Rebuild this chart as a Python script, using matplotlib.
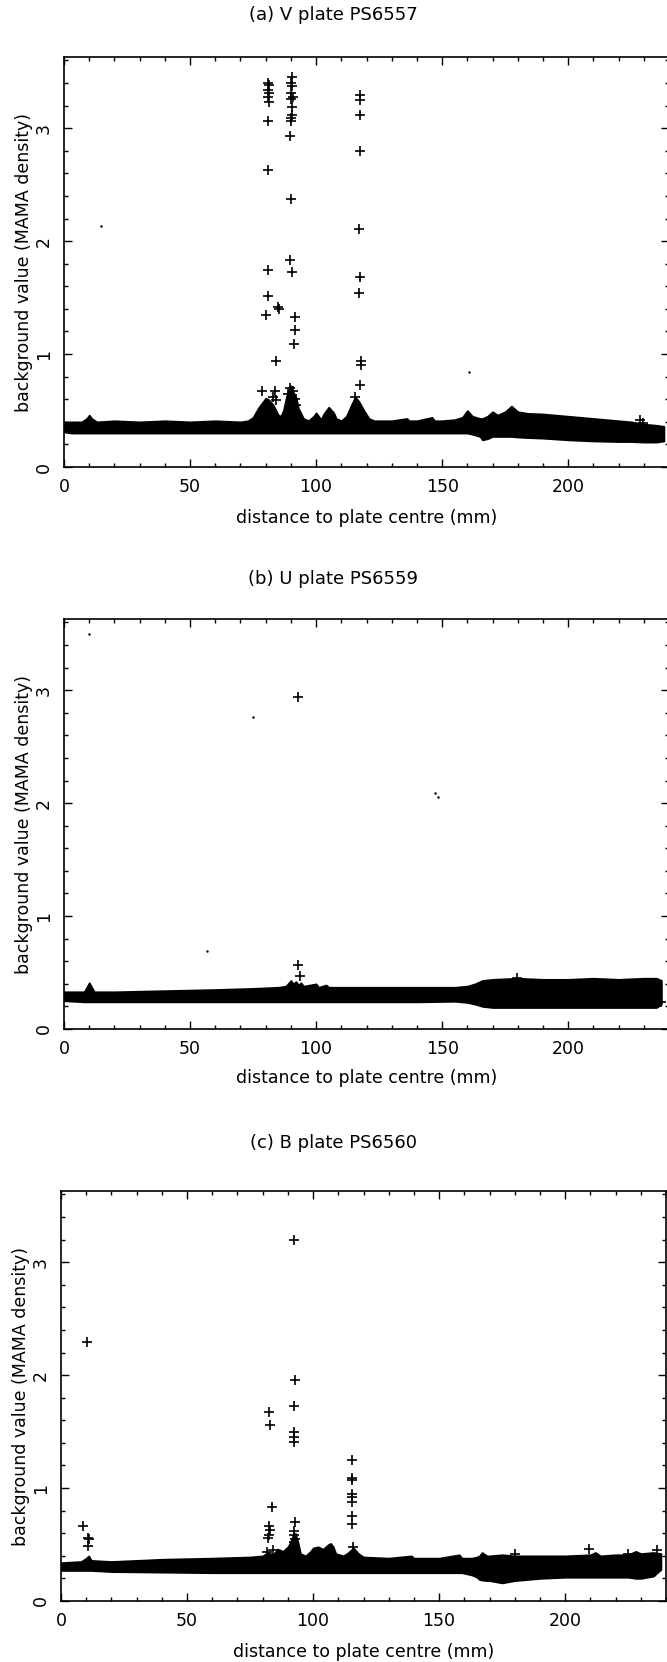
import matplotlib.pyplot as plt
from matplotlib.ticker import MultipleLocator

plt.rcParams['font.family'] = ['DejaVu Sans']

# ---------------- (a) V plate PS6557 ----------------
a_band_x = [0, 3, 7, 9, 10, 11, 13, 20, 30, 40, 50, 60, 70, 73, 75, 77, 79, 80, 81, 83, 85, 86,
            87, 88, 89, 90, 91, 92, 93, 95, 97, 99, 100, 101, 102, 103, 105, 107, 108, 110, 112,
            114, 115.5, 117, 119, 121, 123, 130, 136, 137, 140, 146, 147, 150, 155, 158, 160,
            162, 165, 166, 168, 170, 172, 175, 177.5, 180, 184, 190, 200, 210, 220, 225, 230,
            235, 238]
a_band_hi = [0.40, 0.40, 0.40, 0.43, 0.46, 0.43, 0.40, 0.41, 0.40, 0.41, 0.40, 0.41, 0.40, 0.41,
             0.44, 0.52, 0.58, 0.61, 0.60, 0.55, 0.46, 0.45, 0.50, 0.60, 0.68, 0.72, 0.66, 0.62,
             0.52, 0.43, 0.41, 0.45, 0.48, 0.45, 0.42, 0.47, 0.53, 0.48, 0.43, 0.41, 0.45, 0.55,
             0.62, 0.58, 0.50, 0.43, 0.41, 0.41, 0.43, 0.41, 0.41, 0.44, 0.41, 0.41, 0.42, 0.44,
             0.50, 0.45, 0.43, 0.43, 0.45, 0.49, 0.46, 0.49, 0.54, 0.49, 0.475, 0.47, 0.45, 0.43,
             0.41, 0.40, 0.38, 0.37, 0.36]
a_band_lo = [0.31, 0.30, 0.30, 0.30, 0.30, 0.30, 0.30, 0.30, 0.30, 0.30, 0.30, 0.30, 0.30, 0.30,
             0.30, 0.30, 0.30, 0.30, 0.30, 0.30, 0.30, 0.30, 0.30, 0.30, 0.30, 0.30, 0.30, 0.30,
             0.30, 0.30, 0.30, 0.30, 0.30, 0.30, 0.30, 0.30, 0.30, 0.30, 0.30, 0.30, 0.30, 0.30,
             0.30, 0.30, 0.30, 0.30, 0.30, 0.30, 0.30, 0.30, 0.30, 0.30, 0.30, 0.30, 0.30, 0.30,
             0.30, 0.29, 0.27, 0.24, 0.25, 0.27, 0.27, 0.27, 0.27, 0.265, 0.26, 0.255, 0.24, 0.23,
             0.225, 0.225, 0.22, 0.22, 0.23]
a_out_x = [81.0, 81.3, 80.8, 81.5, 81.0, 81.2, 80.9, 81.1, 80.9, 81.0, 80.2,
           90.3, 90.0, 90.5, 90.2, 90.8, 90.1, 90.4, 90.6, 90.2, 90.0, 89.8, 90.0, 89.8, 90.3,
           91.8, 91.6, 91.2, 84.7, 85.2, 84.2,
           117.6, 117.3, 117.5, 117.4, 117.0, 117.4, 117.0, 118.0, 117.8, 117.6,
           78.4, 83.7, 83.0, 84.0, 91.0, 89.5, 90.5, 91.5, 89.0, 90.0, 91.0, 92.0,
           115.5, 228.6, 229.5]
a_out_y = [3.40, 3.38, 3.34, 3.31, 3.28, 3.23, 3.06, 2.63, 1.74, 1.51, 1.35,
           3.45, 3.40, 3.37, 3.31, 3.28, 3.26, 3.19, 3.12, 3.09, 3.06, 2.93, 2.37, 1.83, 1.73,
           1.33, 1.21, 1.09, 1.42, 1.40, 0.94,
           3.29, 3.25, 3.12, 2.80, 2.11, 1.68, 1.54, 0.94, 0.90, 0.73,
           0.67, 0.67, 0.62, 0.59, 0.67, 0.70, 0.64, 0.60, 0.65, 0.62, 0.58, 0.55,
           0.62, 0.42, 0.39]
a_dot_x = [14.5, 160.5]
a_dot_y = [2.13, 0.84]

# ---------------- (b) U plate PS6559 ----------------
b_band_x = [0, 8, 9, 10, 11, 12, 20, 40, 60, 75, 85, 88, 90, 91, 92, 93, 94, 95, 100, 101, 104,
            105, 120, 140, 155, 160, 163, 166, 170, 180, 190, 200, 210, 220, 230, 235, 237]
b_band_hi = [0.33, 0.33, 0.37, 0.41, 0.37, 0.33, 0.33, 0.34, 0.35, 0.36, 0.37, 0.38, 0.43, 0.40,
             0.42, 0.39, 0.41, 0.38, 0.40, 0.37, 0.39, 0.37, 0.37, 0.37, 0.37, 0.38, 0.40, 0.43,
             0.44, 0.45, 0.44, 0.44, 0.45, 0.44, 0.45, 0.45, 0.43]
b_band_lo = [0.25, 0.24, 0.24, 0.24, 0.24, 0.24, 0.24, 0.24, 0.24, 0.24, 0.24, 0.24, 0.24, 0.24,
             0.24, 0.24, 0.24, 0.24, 0.24, 0.24, 0.24, 0.24, 0.24, 0.24, 0.245, 0.235, 0.22, 0.20,
             0.19, 0.19, 0.19, 0.19, 0.19, 0.19, 0.19, 0.19, 0.22]
b_out_x = [92.9, 92.9, 93.8, 179.8, 237.0]
b_out_y = [2.94, 0.57, 0.47, 0.45, 0.24]
b_dot_x = [10.0, 75.0, 147.0, 148.5, 56.6]
b_dot_y = [3.50, 2.76, 2.09, 2.05, 0.69]

# ---------------- (c) B plate PS6560 ----------------
c_band_x = [0, 8, 10, 11, 12, 20, 40, 60, 75, 80, 82, 84, 86, 88, 90, 91, 92, 93, 94, 95, 97, 99,
            100, 102, 104, 106, 107, 108, 109, 112, 114, 116, 118, 120, 130, 139, 140, 150, 158,
            159, 163, 165, 166, 167, 169, 170, 175, 180, 190, 200, 210, 212, 214, 220, 225, 228,
            230, 235, 238]
c_band_hi = [0.34, 0.35, 0.38, 0.40, 0.36, 0.35, 0.37, 0.38, 0.39, 0.40, 0.43, 0.41, 0.46, 0.44,
             0.48, 0.52, 0.58, 0.60, 0.52, 0.42, 0.40, 0.44, 0.47, 0.48, 0.46, 0.50, 0.51, 0.48,
             0.42, 0.40, 0.43, 0.47, 0.42, 0.39, 0.38, 0.40, 0.38, 0.38, 0.41, 0.38, 0.38, 0.39,
             0.40, 0.43, 0.40, 0.40, 0.41, 0.40, 0.40, 0.40, 0.41, 0.43, 0.40, 0.41, 0.41, 0.44,
             0.42, 0.43, 0.42]
c_band_lo = [0.27, 0.27, 0.27, 0.27, 0.27, 0.26, 0.255, 0.25, 0.25, 0.25, 0.25, 0.25, 0.25, 0.25,
             0.25, 0.25, 0.25, 0.25, 0.25, 0.25, 0.25, 0.25, 0.25, 0.25, 0.25, 0.25, 0.25, 0.25,
             0.25, 0.25, 0.25, 0.25, 0.25, 0.25, 0.25, 0.25, 0.25, 0.25, 0.25, 0.25, 0.23, 0.21,
             0.19, 0.185, 0.18, 0.18, 0.16, 0.18, 0.20, 0.21, 0.21, 0.21, 0.21, 0.21, 0.21, 0.20,
             0.20, 0.22, 0.28]
c_out_x = [8.9, 10.9, 11.2, 10.9, 10.5,
           82.6, 82.9, 83.9, 82.6, 82.8, 82.4, 82.0, 81.8, 84.0,
           92.6, 92.8, 92.5, 92.4, 92.4, 92.4, 92.8, 92.6, 92.5, 93.0, 92.3,
           115.5, 115.6, 115.4, 115.5, 115.4, 115.5, 115.6, 115.3, 115.8,
           180.0, 209.5, 224.9, 236.6]
c_out_y = [0.66, 0.56, 0.55, 0.485, 2.29,
           1.67, 1.56, 0.83, 0.66, 0.63, 0.58, 0.56, 0.43, 0.45,
           3.20, 1.96, 1.73, 1.50, 1.45, 1.41, 0.70, 0.62, 0.58, 0.55, 0.52,
           1.25, 1.09, 1.07, 0.95, 0.92, 0.88, 0.75, 0.68, 0.48,
           0.42, 0.46, 0.42, 0.45]
c_dot_x = []
c_dot_y = []

panels = [
    dict(title='(a) V plate PS6557', bx=a_band_x, lo=a_band_lo, hi=a_band_hi,
         ox=a_out_x, oy=a_out_y, dx=a_dot_x, dy=a_dot_y,
         rect=[64, 57], title_y=15, xlab_y=518),
    dict(title='(b) U plate PS6559', bx=b_band_x, lo=b_band_lo, hi=b_band_hi,
         ox=b_out_x, oy=b_out_y, dx=b_dot_x, dy=b_dot_y,
         rect=[64, 619], title_y=579, xlab_y=1078),
    dict(title='(c) B plate PS6560', bx=c_band_x, lo=c_band_lo, hi=c_band_hi,
         ox=c_out_x, oy=c_out_y, dx=c_dot_x, dy=c_dot_y,
         rect=[61, 1191], title_y=1143, xlab_y=1652),
]

W, H = 667, 1662
AX_W, AX_H = 605, 410

fig = plt.figure(figsize=(W / 100, H / 100), dpi=100)
fig.patch.set_facecolor('white')

for p in panels:
    left, top = p['rect']
    ax = fig.add_axes([left / W, 1 - (top + AX_H) / H, AX_W / W, AX_H / H])
    # dense background band, then the isolated high points
    ax.fill_between(p['bx'], p['lo'], p['hi'], color='black', lw=1.2, zorder=2)
    ax.plot(p['ox'], p['oy'], linestyle='none', marker='+', color='black',
            markersize=7, markeredgewidth=1.2, zorder=3)
    if p['dx']:
        ax.plot(p['dx'], p['dy'], linestyle='none', marker='.', color='black',
                markersize=1.5, zorder=3)

    ax.set_xlim(0, 240)
    ax.set_ylim(0, 3.63)
    ax.xaxis.set_major_locator(MultipleLocator(50))
    ax.xaxis.set_minor_locator(MultipleLocator(10))
    ax.yaxis.set_major_locator(MultipleLocator(1))
    ax.yaxis.set_minor_locator(MultipleLocator(0.2))
    ax.tick_params(which='both', direction='in', top=True, right=True, width=1.0,
                   colors='black')
    ax.tick_params(which='major', length=6)
    ax.tick_params(which='minor', length=3)
    ax.tick_params(axis='x', labelsize=12.5, pad=8)
    ax.tick_params(axis='y', labelsize=12.5, pad=8, labelrotation=90)
    for lab in ax.get_yticklabels():
        lab.set_verticalalignment('center')
    for s in ax.spines.values():
        s.set_linewidth(1.2)

    ax.set_ylabel('background value (MAMA density)', fontsize=12.5, labelpad=1)
    fig.text((left + 240 * 2.52 / 2) / W, 1 - p['xlab_y'] / H,
             'distance to plate centre (mm)', fontsize=12.5, ha='center', va='center')
    fig.text(0.5, 1 - p['title_y'] / H, p['title'], fontsize=13, ha='center', va='center')

fig.savefig('out.png', dpi=100)
